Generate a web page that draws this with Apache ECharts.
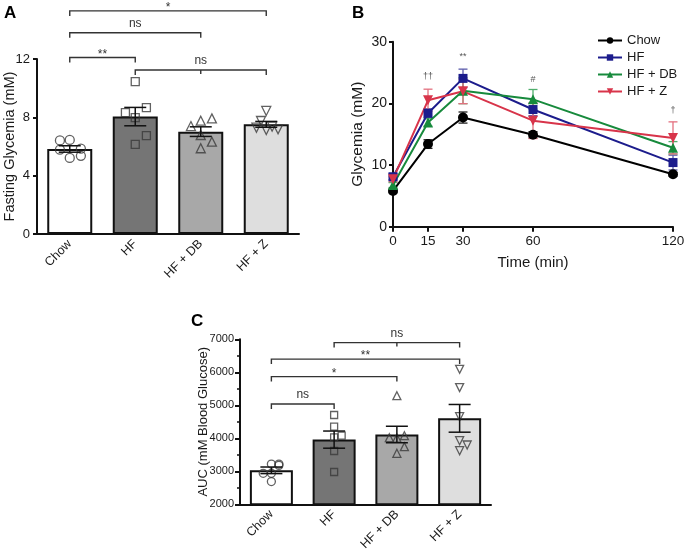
<!DOCTYPE html>
<html><head><meta charset="utf-8">
<script src="https://cdn.jsdelivr.net/npm/echarts@6/dist/echarts.min.js"></script>
<style>html,body{margin:0;padding:0;background:#fff}#c{width:685px;height:557px}</style>
</head><body><div id="c"></div>
<script>
// ---------- data ----------
const groups = ['Chow', 'HF', 'HF + DB', 'HF + Z'];

// Panel A: fasting glycemia (mM)
const fastMean = [5.83, 8.05, 7.02, 7.52];
const fastSem  = [0.22, 0.63, 0.33, 0.2];
const fastChow = [[-0.15, 6.42], [0, 6.45], [-0.15, 5.78], [0.17, 5.85], [0, 5.22], [0.17, 5.36]];
const fastHF   = [[0, 10.45], [0.17, 8.66], [-0.15, 8.32], [0, 7.98], [0.17, 6.74], [0, 6.15]];
const fastDB   = [[-0.15, 7.4], [0, 7.77], [0.17, 7.93], [0, 6.79], [0.17, 6.33], [0, 5.88]];
const fastZ    = [[0, 8.44], [-0.08, 7.75], [-0.15, 7.29], [0, 7.13], [0.09, 7.36], [0.18, 7.18]];
const fastBrackets = [[0, 3, 15.3, -1], [0, 2, 13.8, -1], [0, 1, 12.1, -1], [1, 3, 11.25, 2]];
const fastBracketLabels = ['*', 'ns', '**', 'ns'];

// Panel B: glycemia over time (mM)
const times = [0, 15, 30, 60, 120];
const glyChow = [5.8, 13.4, 17.7, 14.9, 8.5];
const glyHF   = [8.1, 18.4, 24.05, 19.0, 10.4];
const glyDB   = [6.75, 16.9, 22.05, 20.65, 12.8];
const glyZ    = [7.7, 20.5, 21.95, 17.2, 14.4];
const semChow = [0.3, 0.7, 0.9, 0.5, 0.3];
const semHF   = [0.5, 0.7, 1.5, 1.0, 1.2];
const semDB   = [0.4, 0.6, 2.1, 1.6, 1.0];
const semZ    = [0.4, 1.8, 2.0, 2.9, 2.6];
const sigB = [[15, 24.3], [30, 27.6], [60, 23.9], [120, 18.9]];
const sigBLabels = ['††', '**', '#', '†'];

// Panel C: AUC (mM blood glucose)
const aucMean = [3030, 3960, 4115, 4605];
const aucSem  = [100, 260, 250, 420];
const aucChow = [[-0.13, 2940], [0, 2940], [0, 3220], [0.12, 3220], [0.12, 3180], [0, 2690]];
const aucHF   = [[0, 4706], [0, 4352], [0, 4030], [0.12, 4079], [0, 3615], [0, 2979]];
const aucDB   = [[0, 5291], [-0.12, 4018], [0, 4008], [0.12, 4079], [0.12, 3745], [0, 3545]];
const aucZ    = [[0, 6090], [0, 5535], [0, 4655], [0, 3927], [0.12, 3797], [0, 3624]];
const aucBrackets = [[1, 3, 6900, 2], [0, 3, 6400, -1], [0, 2, 5870, -1], [0, 1, 5040, -1]];
const aucBracketLabels = ['ns', '**', '*', 'ns'];

// ---------- styling ----------
const FONT = 'Liberation Sans, Arial, Helvetica, sans-serif';
const TXT = '#1a1a1a';
const barFills = ['#ffffff', '#757575', '#a8a8a8', '#dedede'];
const lineColors = ['#000000', '#1c1c8c', '#178a3c', '#d8344a'];
const errColors = ['#222222', '#5a5aaa', '#4fae6c', '#e3707f'];

function errRender(cap, color, lw) {
  return function (params, api) {
    const x = api.value(0), m = api.value(1), e = api.value(2);
    const t = api.coord([x, m + e]), b = api.coord([x, m - e]);
    const c = t[0];
    const st = { stroke: color, lineWidth: lw };
    return { type: 'group', children: [
      { type: 'line', shape: { x1: c, y1: t[1], x2: c, y2: b[1] }, style: st },
      { type: 'line', shape: { x1: c - cap / 2, y1: t[1], x2: c + cap / 2, y2: t[1] }, style: st },
      { type: 'line', shape: { x1: c - cap / 2, y1: b[1], x2: c + cap / 2, y2: b[1] }, style: st }
    ]};
  };
}
function bracketRender(labels) {
  return function (params, api) {
    const x1 = api.value(0), x2 = api.value(1), y = api.value(2), mid = api.value(3);
    const p1 = api.coord([x1, y]), p2 = api.coord([x2, y]);
    const t = 5;
    const st = { stroke: '#333', fill: null, lineWidth: 1.4 };
    const ch = [{ type: 'polyline', shape: { points: [[p1[0], p1[1] + t], [p1[0], p1[1]], [p2[0], p2[1]], [p2[0], p2[1] + t]] }, style: st }];
    let lx = (p1[0] + p2[0]) / 2;
    if (mid >= 0) {
      const pm = api.coord([mid, y]);
      ch.push({ type: 'line', shape: { x1: pm[0], y1: pm[1], x2: pm[0], y2: pm[1] + 4 }, style: st });
      lx = pm[0];
    }
    const lab = labels[params.dataIndex];
    const dy = lab.indexOf('*') >= 0 ? 3 : 9;
    ch.push({ type: 'text', style: { text: lab, x: lx, y: p1[1] - dy,
      textAlign: 'center', textVerticalAlign: 'middle', align: 'center', verticalAlign: 'middle',
      font: '12px ' + FONT, fill: '#333' } });
    return { type: 'group', children: ch };
  };
}
function sigRender(params, api) {
  const p = api.coord([api.value(0), api.value(1)]);
  return { type: 'text', style: { text: sigBLabels[params.dataIndex], x: p[0], y: p[1],
    textAlign: 'center', textVerticalAlign: 'middle', align: 'center', verticalAlign: 'middle',
    font: '9px ' + FONT, fill: '#555' } };
}
function ptsSeries(data, symbol, rotate, size, xi, yi) {
  return { type: 'scatter', xAxisIndex: xi, yAxisIndex: yi, data: data, symbol: symbol,
    symbolRotate: rotate, symbolSize: size, z: 4,
    itemStyle: { color: 'rgba(0,0,0,0)', borderColor: '#3a3a3a', borderWidth: 1.3 } };
}

const lineSt = { color: '#111', width: 2 };
const catAxis = (gi) => ({
  type: 'category', gridIndex: gi, data: groups, boundaryGap: true,
  axisLine: { onZero: false, lineStyle: lineSt },
  axisTick: { alignWithLabel: true, length: 5, lineStyle: lineSt },
  axisLabel: { rotate: 45, fontSize: 12.5, color: TXT, fontFamily: FONT, margin: 8 }
});

const option = {
  animation: false,
  backgroundColor: '#fff',
  textStyle: { fontFamily: FONT },
  grid: [
    { left: 37, top: 59, width: 262, height: 175, outerBoundsMode: 'none' },
    { left: 393, top: 41.7, width: 280, height: 185, outerBoundsMode: 'none' },
    { left: 240, top: 339.3, width: 251, height: 165, outerBoundsMode: 'none' }
  ],
  xAxis: [
    catAxis(0),
    { type: 'value', gridIndex: 0, min: -0.5, max: 3.5, show: false },
    { type: 'value', gridIndex: 1, min: 0, max: 120, interval: 15,
      axisLine: { show: true, onZero: false, lineStyle: lineSt },
      axisTick: { show: true, length: 5, customValues: times, lineStyle: lineSt },
      axisLabel: { customValues: times, fontSize: 13.5, color: TXT, margin: 8 },
      splitLine: { show: false },
      name: 'Time (min)', nameLocation: 'middle', nameGap: 29, nameMoveOverlap: false,
      nameTextStyle: { fontSize: 15, color: TXT } },
    catAxis(2),
    { type: 'value', gridIndex: 2, min: -0.5, max: 3.5, show: false }
  ],
  yAxis: [
    { type: 'value', gridIndex: 0, min: 0, max: 12, interval: 4,
      axisLine: { show: true, onZero: false, lineStyle: lineSt },
      axisTick: { show: true, length: 4, lineStyle: lineSt },
      axisLabel: { fontSize: 13, color: TXT, margin: 7 }, splitLine: { show: false },
      name: 'Fasting Glycemia (mM)', nameLocation: 'middle', nameGap: 20, nameMoveOverlap: false,
      nameTextStyle: { fontSize: 14.5, color: TXT } },
    { type: 'value', gridIndex: 1, min: 0, max: 30, interval: 10,
      axisLine: { show: true, onZero: false, lineStyle: lineSt },
      axisTick: { show: true, length: 4, lineStyle: lineSt },
      axisLabel: { fontSize: 14, color: TXT, margin: 6 }, splitLine: { show: false },
      name: 'Glycemia (mM)', nameLocation: 'middle', nameGap: 27, nameMoveOverlap: false,
      nameTextStyle: { fontSize: 15.5, color: TXT } },
    { type: 'value', gridIndex: 2, min: 2000, max: 7000, interval: 1000,
      axisLine: { show: true, onZero: false, lineStyle: lineSt },
      axisTick: { show: true, length: 5, lineStyle: lineSt },
      minorTick: { show: true, splitNumber: 2, length: 3, lineStyle: { color: '#111', width: 1.5 } },
      axisLabel: { fontSize: 11, color: TXT, margin: 6, formatter: v => String(v) }, splitLine: { show: false },
      name: 'AUC (mM Blood Glucose)', nameLocation: 'middle', nameGap: 30, nameMoveOverlap: false,
      nameTextStyle: { fontSize: 13, color: TXT } }
  ],
  legend: {
    orient: 'vertical', left: 597, top: 32, padding: 0, itemWidth: 24, itemHeight: 8, itemGap: 0,
    textStyle: { fontSize: 13, color: TXT, lineHeight: 17 },
    data: ['Chow', 'HF', 'HF + DB', 'HF + Z']
  },
  graphic: [
    { type: 'text', left: 4, top: 5, style: { text: 'A', font: 'bold 17px ' + FONT, fill: '#000' } },
    { type: 'text', left: 352, top: 5, style: { text: 'B', font: 'bold 17px ' + FONT, fill: '#000' } },
    { type: 'text', left: 191, top: 313, style: { text: 'C', font: 'bold 17px ' + FONT, fill: '#000' } }
  ],
  series: []
};

// Panel A
option.series.push({ type: 'bar', xAxisIndex: 0, yAxisIndex: 0, barWidth: 45, z: 2,
  data: fastMean.map((v, i) => ({ value: v, itemStyle: { color: barFills[i], borderColor: '#111', borderWidth: 2 } })) });
option.series.push(ptsSeries(fastChow.map(d => [d[0] + 0, d[1]]), 'circle', 0, 9, 1, 0));
option.series.push(ptsSeries(fastHF.map(d => [d[0] + 1, d[1]]), 'rect', 0, 8, 1, 0));
option.series.push(ptsSeries(fastDB.map(d => [d[0] + 2, d[1]]), 'triangle', 0, 9, 1, 0));
option.series.push(ptsSeries(fastZ.map(d => [d[0] + 3, d[1]]), 'triangle', 180, 9, 1, 0));
option.series.push({ type: 'custom', xAxisIndex: 1, yAxisIndex: 0, z: 5, clip: false,
  renderItem: errRender(22, '#111', 1.5), data: fastMean.map((m, i) => [i, m, fastSem[i]]) });
option.series.push({ type: 'custom', xAxisIndex: 1, yAxisIndex: 0, z: 5, clip: false,
  renderItem: bracketRender(fastBracketLabels), data: fastBrackets });

// Panel B
const glySeries = [glyChow, glyHF, glyDB, glyZ];
const semSeries = [semChow, semHF, semDB, semZ];
const symbols = ['circle', 'rect', 'triangle', 'triangle'];
const rotates = [0, 0, 0, 180];
glySeries.forEach((g, k) => {
  option.series.push({ type: 'custom', xAxisIndex: 2, yAxisIndex: 1, z: 2, clip: false,
    renderItem: errRender(9, errColors[k], 1.3), data: times.map((t, i) => [t, g[i], semSeries[k][i]]) });
});
glySeries.forEach((g, k) => {
  option.series.push({ type: 'line', name: groups[k], xAxisIndex: 2, yAxisIndex: 1, z: 3,
    data: times.map((t, i) => [t, g[i]]), symbol: symbols[k], symbolRotate: rotates[k],
    symbolSize: k === 1 ? 9 : 10, showSymbol: true,
    lineStyle: { color: lineColors[k], width: 2 }, itemStyle: { color: lineColors[k] } });
});
option.series.push({ type: 'custom', xAxisIndex: 2, yAxisIndex: 1, z: 5, clip: false,
  renderItem: sigRender, data: sigB });

// Panel C
option.series.push({ type: 'bar', xAxisIndex: 3, yAxisIndex: 2, barWidth: 43, z: 2,
  data: aucMean.map((v, i) => ({ value: v, itemStyle: { color: barFills[i], borderColor: '#111', borderWidth: 2 } })) });
option.series.push(ptsSeries(aucChow.map(d => [d[0] + 0, d[1]]), 'circle', 0, 8, 4, 2));
option.series.push(ptsSeries(aucHF.map(d => [d[0] + 1, d[1]]), 'rect', 0, 7, 4, 2));
option.series.push(ptsSeries(aucDB.map(d => [d[0] + 2, d[1]]), 'triangle', 0, 8, 4, 2));
option.series.push(ptsSeries(aucZ.map(d => [d[0] + 3, d[1]]), 'triangle', 180, 8, 4, 2));
option.series.push({ type: 'custom', xAxisIndex: 4, yAxisIndex: 2, z: 5, clip: false,
  renderItem: errRender(22, '#111', 1.5), data: aucMean.map((m, i) => [i, m, aucSem[i]]) });
option.series.push({ type: 'custom', xAxisIndex: 4, yAxisIndex: 2, z: 5, clip: false,
  renderItem: bracketRender(aucBracketLabels), data: aucBrackets });

const chart = echarts.init(document.getElementById('c'));
chart.setOption(option);
</script></body></html>
